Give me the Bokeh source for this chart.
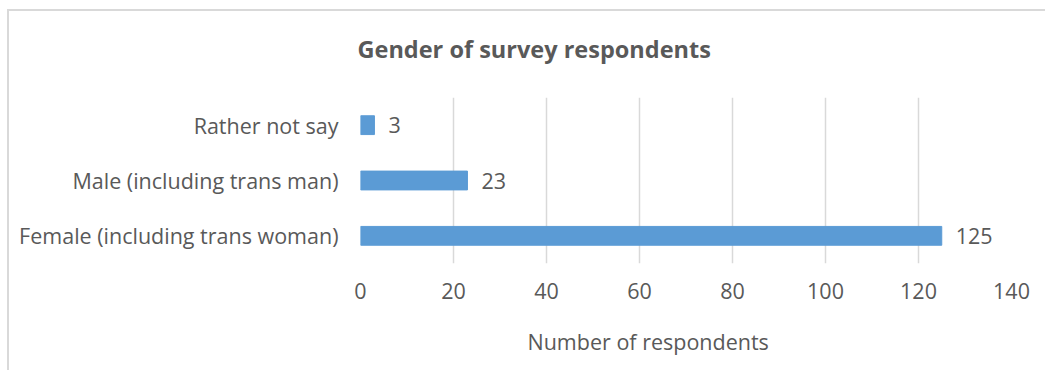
from bokeh.plotting import figure
from bokeh.models import ColumnDataSource, LabelSet, Title, FixedTicker, FactorRange
from bokeh.core.properties import value
from bokeh.embed import file_html
from bokeh.resources import INLINE

categories = ["Female (including trans woman)", "Male (including trans man)", "Rather not say"]
counts = [125, 23, 3]
x_ticks = [0, 20, 40, 60, 80, 100, 120, 140]
title_text = "Gender of survey respondents"
x_title = "Number of respondents"

FONT = "Open Sans"
TXT = "#595959"
FS = "21.5px"

src = ColumnDataSource(dict(cat=categories, n=counts, lab=[str(c) for c in counts]))

p = figure(width=1038, height=361, output_backend="svg", toolbar_location=None,
           y_range=FactorRange(*categories, range_padding=0), x_range=(0, 140),
           min_border_left=351, min_border_right=36, min_border_top=86, min_border_bottom=109)
p.margin = (9, 0, 0, 7)
p.styles = {"border-top": "2px solid #d9d9d9", "border-left": "2px solid #d9d9d9"}
p.outline_line_color = None
p.background_fill_color = "white"
p.border_fill_color = "white"

p.hbar(y="cat", right="n", left=0, height=0.34, source=src,
       fill_color="#5B9BD5", line_color="#5B9BD5")

p.add_layout(LabelSet(x="n", y="cat", text="lab", source=src, x_offset=14,
                      text_baseline="middle", text_align="left",
                      text_font=value(FONT), text_font_size=value(FS), text_color=TXT))

p.xaxis.ticker = FixedTicker(ticks=x_ticks)
p.xaxis.axis_line_color = None
p.xaxis.major_tick_line_color = None
p.xaxis.minor_tick_line_color = None
p.xaxis.major_label_text_font = FONT
p.xaxis.major_label_text_font_size = FS
p.xaxis.major_label_text_color = TXT
p.xaxis.major_label_standoff = 13

p.yaxis.axis_line_color = None
p.yaxis.major_tick_line_color = None
p.yaxis.major_tick_out = 0
p.yaxis.major_label_text_font = FONT
p.yaxis.major_label_text_font_size = FS
p.yaxis.major_label_text_color = TXT
p.yaxis.major_label_standoff = 22

p.ygrid.grid_line_color = None
p.xgrid.grid_line_color = "#d9d9d9"
p.xgrid.grid_line_width = 1.5

# spacer panels (blank) to push titles outward without enlarging the canvas
p.add_layout(Title(text=" ", standoff=10, text_font_size="10px"), "above")
p.title = Title(text=title_text, align="left", offset=-3, standoff=20,
                text_font=FONT, text_font_size="23.5px", text_font_style="bold", text_color=TXT)
p.add_layout(Title(text=" ", standoff=5, text_font_size="10px"), "below")
p.add_layout(Title(text=x_title, align="left", offset=167, standoff=10,
                   text_font=FONT, text_font_size=FS, text_font_style="normal", text_color=TXT),
             "below")

open("out.html", "w").write(file_html(p, INLINE))
